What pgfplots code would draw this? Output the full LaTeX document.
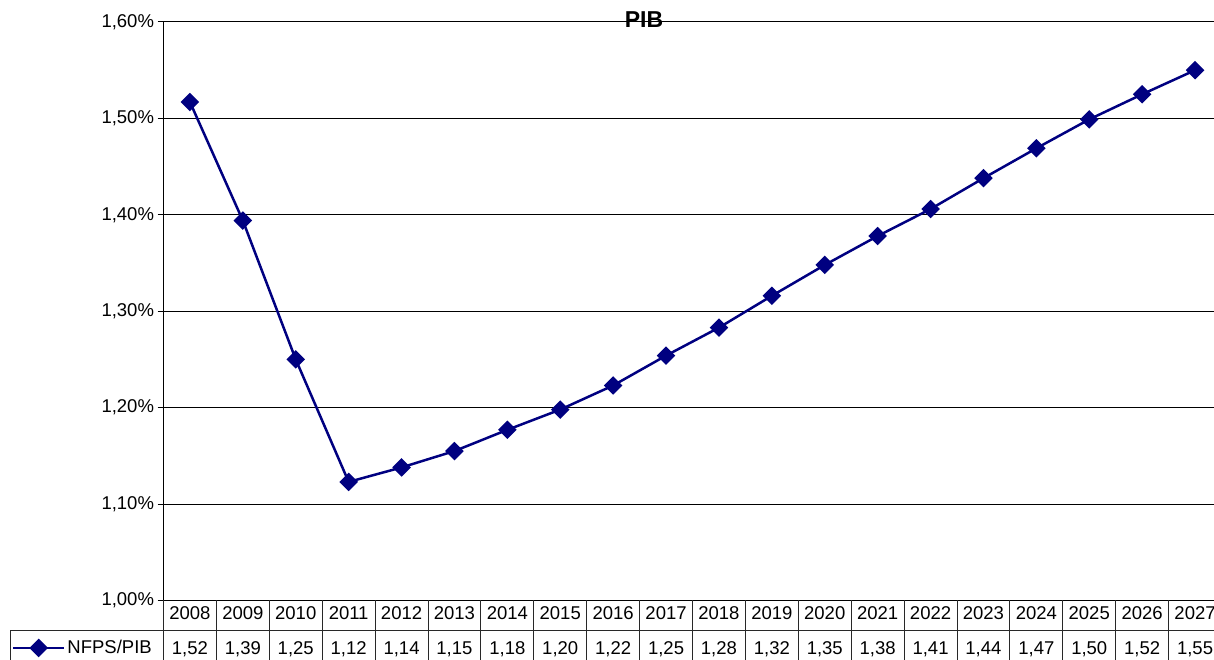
\documentclass[border=0pt]{standalone}
\usepackage{pgfplots}
\pgfplotsset{compat=1.18}
\usepackage{fontspec}
\setmainfont{Liberation Sans}
\definecolor{navyline}{RGB}{0,0,128}
\definecolor{tblline}{RGB}{40,40,40}
\begin{document}
\begin{tikzpicture}[x=1bp,y=1bp]
\useasboundingbox (0,0) rectangle (1214,660);
\node[font=\bfseries\fontsize{23bp}{27bp}\selectfont, anchor=base, inner sep=0] at (644,632.7) {PIB};
\begin{axis}[
  at={(163.5bp,59.5bp)}, anchor=south west,
  scale only axis, width=1058bp, height=578.5bp,
  xmin=-0.5, xmax=19.5, ymin=1.0, ymax=1.6,
  clip=false,
  axis lines*=left,
  axis line style={black, line width=1bp},
  ymajorgrids, grid style={black, line width=1bp},
  ytick={1.0,1.1,1.2,1.3,1.4,1.5,1.6},
  yticklabels={{1,00\%},{1,10\%},{1,20\%},{1,30\%},{1,40\%},{1,50\%},{1,60\%}},
  tick align=outside,
  ytick style={black, line width=1bp},
  major tick length=6bp,
  ticklabel style={font=\fontsize{18.5bp}{22bp}\selectfont},
  xtick={0,...,19},
  xticklabels={2008,2009,2010,2011,2012,2013,2014,2015,2016,2017,2018,2019,2020,2021,2022,2023,2024,2025,2026,2027},
  xtick style={draw=none},
  xticklabel style={anchor=base, yshift=-13.5bp},
  extra x ticks={0,...,19},
  extra x tick labels={{1,52},{1,39},{1,25},{1,12},{1,14},{1,15},{1,18},{1,20},{1,22},{1,25},{1,28},{1,32},{1,35},{1,38},{1,41},{1,44},{1,47},{1,50},{1,52},{1,55}},
  extra x tick style={xtick style={draw=none}, xticklabel style={yshift=-35bp}},
  legend style={at={(axis description cs:-0.1432,-0.0821)}, anchor=west, draw=none, fill=none, inner sep=0pt, outer sep=0pt, font=\fontsize{18.5bp}{22bp}\selectfont},
  legend image code/.code={%
    \draw[mark repeat=2, mark phase=2] plot coordinates {(0bp,0bp) (25.5bp,0bp) (51bp,0bp)};},
]
\addplot[navyline, line width=2.5bp, mark=square*, mark size=5.3bp, mark options={rotate=45, solid, fill=navyline}] coordinates {
(0,1.517) (1,1.394) (2,1.250) (3,1.123) (4,1.138) (5,1.155) (6,1.177) (7,1.198) (8,1.223) (9,1.254)
(10,1.283) (11,1.316) (12,1.348) (13,1.378) (14,1.406) (15,1.438) (16,1.469) (17,1.499) (18,1.525) (19,1.550)
};
\addlegendentry{NFPS/PIB}
\end{axis}
\foreach \k in {0,...,20} {
  \draw[tblline, line width=1bp] ({163.5+52.9*\k},59.5) -- ({163.5+52.9*\k},-10);
}
\draw[tblline, line width=1bp] (10,29) -- (1230,29);
\draw[tblline, line width=1bp] (10,29) -- (10,-10);
\end{tikzpicture}
\end{document}
